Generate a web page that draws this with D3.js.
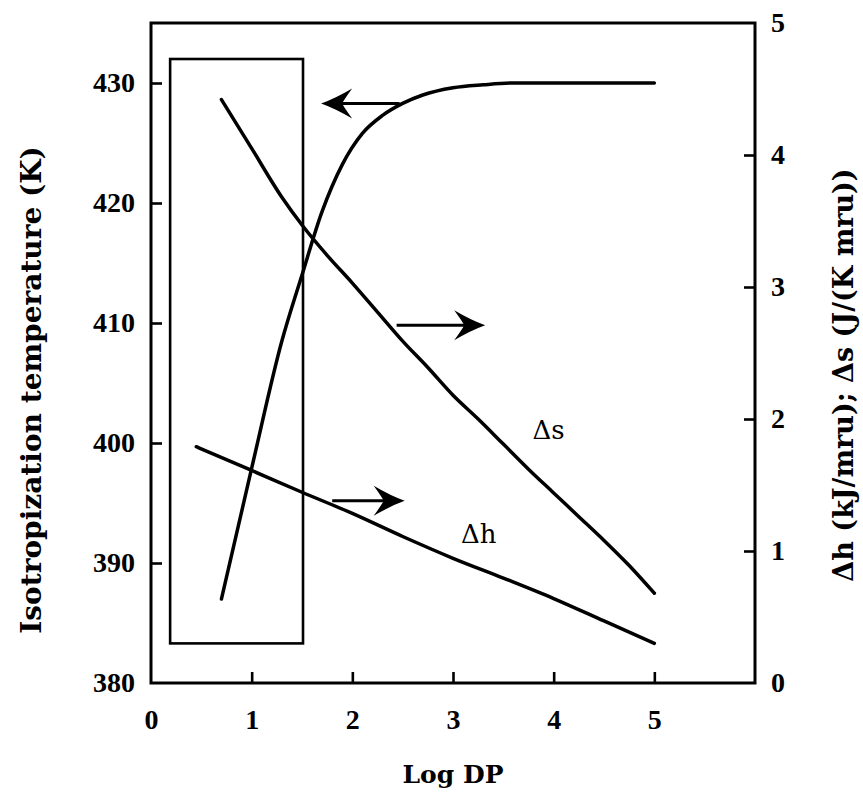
<!DOCTYPE html>
<html>
<head>
<meta charset="utf-8">
<script src="https://cdn.jsdelivr.net/npm/d3@7"></script>
<style>
  html, body { margin: 0; padding: 0; background: #fff; }
  svg { display: block; }
  .tick-label { font-family: "Liberation Serif", "DejaVu Serif", serif; font-weight: bold; font-size: 28px; fill: #000; }
  .axis-title { font-family: "DejaVu Serif", "Liberation Serif", serif; font-weight: bold; font-size: 25px; fill: #000; }
  .curve-label { font-family: "DejaVu Serif", "Liberation Serif", serif; font-size: 26px; fill: #000; }
</style>
</head>
<body>
<svg id="chart" width="863" height="795"></svg>
<script>
// Isotropization temperature versus log degree of polymerization (left axis)
const tempLogDP = [0.70, 1.0, 1.3, 1.5, 1.7, 1.9, 2.1, 2.3, 2.5, 2.7, 3.0, 3.3, 3.6, 4.0, 5.0];
const tempK     = [387.0, 397.9, 408.5, 414.0, 419.3, 423.2, 425.8, 427.3, 428.3, 429.0, 429.6, 429.85, 430.0, 430.0, 430.0];

// Entropy change per mole of repeat unit (right axis)
const dsLogDP = [0.70, 1.0, 1.3, 1.5, 1.75, 2.0, 2.25, 2.5, 2.75, 3.0, 3.25, 3.5, 3.75, 4.0, 4.25, 4.5, 4.75, 5.0];
const dsVal   = [4.42, 4.05, 3.68, 3.47, 3.24, 3.03, 2.81, 2.59, 2.39, 2.18, 2.00, 1.81, 1.62, 1.44, 1.26, 1.08, 0.89, 0.68];

// Enthalpy change per mole of repeat unit (right axis)
const dhLogDP = [0.45, 1.0, 1.5, 2.0, 2.5, 3.0, 3.5, 4.0, 4.5, 5.0];
const dhVal   = [1.79, 1.61, 1.445, 1.285, 1.11, 0.945, 0.795, 0.64, 0.47, 0.30];

// Tick values
const xTicks = [0, 1, 2, 3, 4, 5];
const leftTicks = [380, 390, 400, 410, 420, 430];
const rightTicks = [0, 1, 2, 3, 4, 5];

// Low-DP region box (log DP range, temperature range)
const boxLogDP = [0.19, 1.51];
const boxTemp = [383.3, 432.0];

// Arrows pointing each curve at its axis: start / end log DP, height, axis
const arrowFrom = [2.47, 2.44, 1.80];
const arrowTo   = [1.69, 3.32, 2.52];
const arrowAt   = [428.3, 2.71, 1.38];
const arrowAxis = ["left", "right", "right"];

// Curve names and their anchor positions (log DP, right-axis value)
const curveNames = ["\u0394s", "\u0394h"];
const curveNameX = [3.79, 3.08];
const curveNameY = [1.85, 1.06];

const svg = d3.select("#chart");
const m = { left: 151, right: 755, top: 23, bottom: 683 };

const x = d3.scaleLinear().domain([0, 6]).range([m.left, m.right]);
const yL = d3.scaleLinear().domain([380, 435]).range([m.bottom, m.top]);
const yR = d3.scaleLinear().domain([0, 5]).range([m.bottom, m.top]);

// Axes with inward ticks; end ticks are hidden because the frame covers them
const axisG = svg.append("g");
const styleLabels = g => g.selectAll(".tick text")
  .attr("class", "tick-label").attr("font-size", null).attr("font-family", null);

const bottomAxis = d3.axisBottom(x).tickValues(xTicks).tickSize(0).tickPadding(0).tickFormat(d3.format("d"));
const gb = axisG.append("g").attr("transform", `translate(0,${m.bottom})`).call(bottomAxis);
gb.attr("font-family", null).attr("font-size", null);
gb.select(".domain").remove();
gb.call(styleLabels);
gb.selectAll(".tick text").attr("dy", null).attr("y", 46);
gb.selectAll(".tick").filter(d => d > 0).append("line").attr("y1", 0).attr("y2", -11).attr("stroke", "#000").attr("stroke-width", 2.6);

const leftAxis = d3.axisLeft(yL).tickValues(leftTicks).tickSize(0).tickPadding(16).tickFormat(d3.format("d"));
const gl = axisG.append("g").attr("transform", `translate(${m.left},0)`).call(leftAxis);
gl.attr("font-family", null).attr("font-size", null);
gl.select(".domain").remove();
gl.call(styleLabels);
gl.selectAll(".tick").filter(d => d > 380).append("line").attr("x1", 0).attr("x2", 11).attr("stroke", "#000").attr("stroke-width", 2.6);

const rightAxis = d3.axisRight(yR).tickValues(rightTicks).tickSize(0).tickPadding(16).tickFormat(d3.format("d"));
const gr = axisG.append("g").attr("transform", `translate(${m.right},0)`).call(rightAxis);
gr.attr("font-family", null).attr("font-size", null);
gr.select(".domain").remove();
gr.call(styleLabels);
gr.selectAll(".tick").filter(d => d > 0 && d < 5).append("line").attr("x1", 0).attr("x2", -11).attr("stroke", "#000").attr("stroke-width", 2.6);

// Plot frame
svg.append("rect")
  .attr("x", x(0)).attr("y", yR(5))
  .attr("width", x(6) - x(0)).attr("height", yR(0) - yR(5))
  .attr("fill", "none").attr("stroke", "#000").attr("stroke-width", 3);

// Axis titles
svg.append("text").attr("class", "axis-title")
  .attr("transform", "translate(31,390) rotate(-90)")
  .style("font-size", "28px")
  .attr("text-anchor", "middle").attr("dominant-baseline", "central")
  .text("Isotropization temperature (K)");

svg.append("text").attr("class", "axis-title")
  .attr("transform", "translate(843,375) rotate(-90)")
  .style("font-size", "27px")
  .attr("text-anchor", "middle").attr("dominant-baseline", "central")
  .text("\u0394h (kJ/mru); \u0394s (J/(K mru))");

svg.append("text").attr("class", "axis-title")
  .attr("x", x(3)).attr("y", 783)
  .attr("text-anchor", "middle")
  .text("Log DP");

// Box around the low-DP region
svg.append("rect")
  .attr("x", x(boxLogDP[0])).attr("y", yL(boxTemp[1]))
  .attr("width", x(boxLogDP[1]) - x(boxLogDP[0]))
  .attr("height", yL(boxTemp[0]) - yL(boxTemp[1]))
  .attr("fill", "none").attr("stroke", "#000").attr("stroke-width", 2.6);

// Curves
const lineL = d3.line().x(d => x(d[0])).y(d => yL(d[1])).curve(d3.curveMonotoneX);
const lineR = d3.line().x(d => x(d[0])).y(d => yR(d[1])).curve(d3.curveMonotoneX);

const curveStyle = sel => sel.attr("fill", "none").attr("stroke", "#000")
  .attr("stroke-width", 3.5).attr("stroke-linecap", "round").attr("stroke-linejoin", "round");

svg.append("path").datum(d3.zip(tempLogDP, tempK)).attr("d", lineL).call(curveStyle);
svg.append("path").datum(d3.zip(dsLogDP, dsVal)).attr("d", lineR).call(curveStyle);
svg.append("path").datum(d3.zip(dhLogDP, dhVal)).attr("d", lineR).call(curveStyle);

// Arrows with barbed heads
arrowFrom.forEach((from, i) => {
  const ys = arrowAxis[i] === "left" ? yL : yR;
  const x0 = x(from), x1 = x(arrowTo[i]), yy = ys(arrowAt[i]);
  const dir = Math.sign(x1 - x0);
  const g = svg.append("g");
  g.append("line")
    .attr("x1", x0).attr("y1", yy).attr("x2", x1 - dir * 18).attr("y2", yy)
    .attr("stroke", "#000").attr("stroke-width", 3);
  const hx = t => x1 - dir * t;
  g.append("path")
    .attr("d", `M${x1},${yy} Q${hx(14)},${yy - 5} ${hx(31)},${yy - 15} Q${hx(23)},${yy - 4} ${hx(21)},${yy} Q${hx(23)},${yy + 4} ${hx(31)},${yy + 15} Q${hx(14)},${yy + 5} ${x1},${yy} Z`)
    .attr("fill", "#000");
});

// Curve names
curveNames.forEach((name, i) => {
  svg.append("text").attr("class", "curve-label")
    .attr("x", x(curveNameX[i])).attr("y", yR(curveNameY[i]))
    .text(name);
});
</script>
</body>
</html>
